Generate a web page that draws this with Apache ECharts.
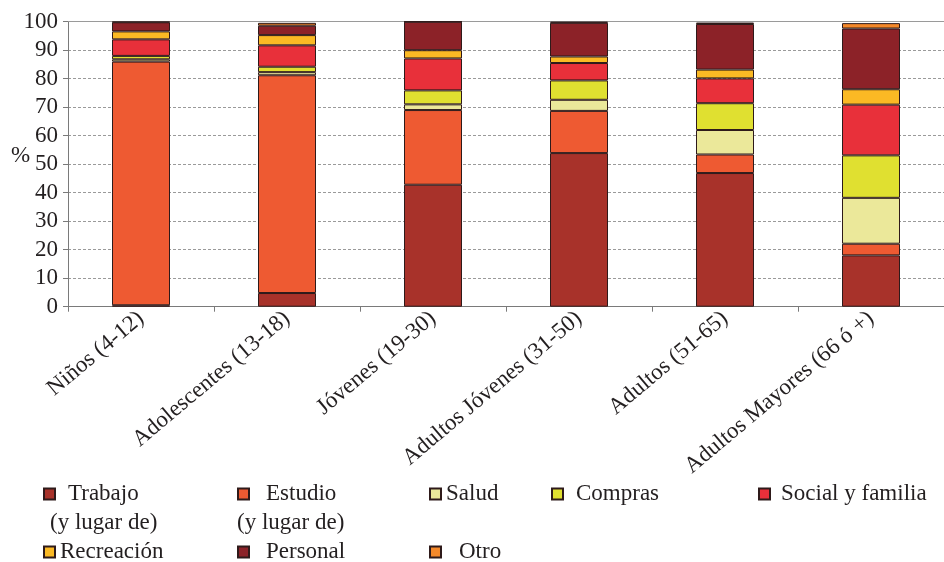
<!DOCTYPE html>
<html><head><meta charset="utf-8">
<script src="https://cdn.jsdelivr.net/npm/echarts@6/dist/echarts.min.js"></script>
<style>html,body{margin:0;padding:0;background:#fff}#c{width:944px;height:562px}</style>
</head><body><div id="c"></div>
<script>
const categories = ['Niños (4-12)', 'Adolescentes (13-18)', 'Jóvenes (19-30)', 'Adultos Jóvenes (31-50)', 'Adultos (51-65)', 'Adultos Mayores (66 ó +)'];
const trabajo    = [0.5, 4.8, 42.8, 53.9, 46.9, 18.0];
const estudio    = [85.5, 76.4, 26.2, 14.8, 6.5, 4.1];
const salud      = [0.8, 1.1, 2.0, 3.9, 8.6, 16.1];
const compras    = [1.2, 1.9, 4.9, 6.8, 9.4, 14.9];
const social     = [5.8, 7.5, 11.2, 6.1, 8.7, 17.8];
const recreacion = [2.8, 3.6, 2.9, 2.3, 3.1, 5.4];
const personal   = [3.2, 3.3, 10.0, 11.8, 16.0, 21.3];
const otro       = [0.2, 1.0, 0.0, 0.4, 0.5, 1.9];
const yTicks = [0, 10, 20, 30, 40, 50, 60, 70, 80, 90, 100];
const seriesNames = ['Trabajo', 'Estudio', 'Salud', 'Compras', 'Social y familia', 'Recreación', 'Personal', 'Otro'];
const seriesData = [trabajo, estudio, salud, compras, social, recreacion, personal, otro];
const colors = ['#a8322a', '#ee5a32', '#ebe89a', '#e0e030', '#e8303a', '#fbb924', '#8c2228', '#f5892a'];

const FONT = 'Liberation Serif';
const TXT = '#231f20';
const chart = echarts.init(document.getElementById('c'), null, {renderer: 'canvas'});

const series = seriesNames.map((n, i) => ({
  name: n, type: 'bar', stack: 'all', barWidth: 58,
  data: seriesData[i],
  itemStyle: {color: colors[i], borderColor: '#2e1a1a', borderWidth: 1},
  emphasis: {disabled: true}
}));

// legend layout: [name, iconLeft, rowCenterY, textPadLeft]
const legendPos = [
  ['Trabajo', 43, 494, 8], ['Estudio', 237, 494, 12], ['Salud', 429, 494, 0],
  ['Compras', 551, 494, 8], ['Social y familia', 758, 494, 6],
  ['Recreación', 43, 552, 0], ['Personal', 237, 552, 12], ['Otro', 429, 552, 13]
];
const legends = legendPos.map(p => ({
  data: [p[0]], left: p[1], top: p[2] - 12, padding: 0,
  icon: 'rect', itemWidth: 11, itemHeight: 11, selectedMode: false,
  textStyle: {fontFamily: FONT, fontSize: 23, color: TXT, lineHeight: 24, padding: [0, 0, 0, p[3]]}
}));

chart.setOption({
  animation: false,
  color: colors,
  grid: {left: 68, right: -6, top: 21.7, bottom: 255.3},
  legend: legends,
  graphic: [
    {type: 'text', left: 11, top: 144, style: {text: '%', font: '23px "Liberation Serif"', fill: TXT}},
    {type: 'text', left: 50, top: 511, style: {text: '(y lugar de)', font: '23px "Liberation Serif"', fill: TXT}},
    {type: 'text', left: 237, top: 511, style: {text: '(y lugar de)', font: '23px "Liberation Serif"', fill: TXT}}
  ],
  xAxis: [{
    type: 'category', data: categories,
    axisLine: {lineStyle: {color: '#7a7a7a', width: 1}},
    axisTick: {show: true, length: 5, lineStyle: {color: '#7a7a7a'}},
    axisLabel: {rotate: 40, margin: 9, fontFamily: FONT, fontSize: 23, color: TXT, interval: 0}
  }, {
    type: 'category', data: categories, position: 'top',
    axisLine: {show: true, lineStyle: {color: '#9a9a9a', width: 1}},
    axisTick: {show: false}, axisLabel: {show: false}
  }],
  yAxis: {
    type: 'value', min: yTicks[0], max: yTicks[yTicks.length - 1], interval: 10,
    axisLine: {show: true, lineStyle: {color: '#7a7a7a', width: 1}},
    axisTick: {show: true, length: 5, lineStyle: {color: '#7a7a7a'}},
    axisLabel: {fontFamily: FONT, fontSize: 23, color: TXT, margin: 10},
    splitLine: {show: true, lineStyle: {color: '#9a9a9a', width: 1, type: [3, 2]}}
  },
  series: series
});
</script></body></html>
